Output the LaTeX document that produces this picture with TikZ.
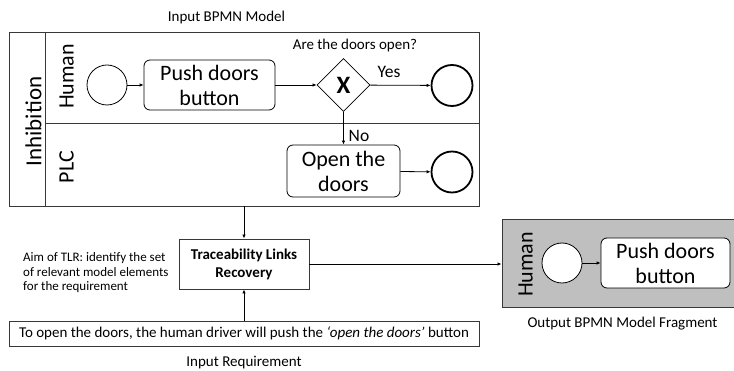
\documentclass[tikz,border=0pt]{standalone}
\usepackage{fontspec}
\setmainfont{Carlito}
\usetikzlibrary{shapes.geometric,arrows.meta}

\begin{document}
\begin{tikzpicture}[x=1pt,y=-1pt,
  frame/.style={draw=black!78, line width=0.9pt},
  task/.style={draw, line width=0.8pt, rounded corners=6pt, align=center, inner sep=0pt,
    font=\fontsize{22}{25}\selectfont},
  startev/.style={circle, draw, line width=0.8pt, minimum size=40pt, inner sep=0pt},
  endev/.style={circle, draw, line width=1.8pt, minimum size=41pt, inner sep=0pt},
  gateway/.style={diamond, draw, line width=0.8pt, minimum width=53pt, minimum height=53pt, inner sep=0pt,
    font=\fontsize{25}{25}\selectfont\bfseries},
  flow/.style={-{Latex[length=4pt,width=3.5pt]}, line width=0.8pt},
  caption/.style={font=\fontsize{15}{17}\selectfont},
  lanelabel/.style={rotate=90, anchor=base, inner sep=0pt, font=\fontsize{22}{24}\selectfont},
  edgelabel/.style={font=\fontsize{17.5}{19}\selectfont}
]
\useasboundingbox (0,0) rectangle (734,371);

% input BPMN model: pool with two lanes
\node[caption] (intitle) at (226.5,17.5) {Input BPMN Model};
\node[frame, minimum width=470pt, minimum height=174pt, inner sep=0pt] (pool) at (244,119) {};
\draw[frame] (45,32) -- (45,206);
\draw[frame] (45,123) -- (479,123);
\node[lanelabel, font=\fontsize{23}{25}\selectfont] (poollabel) at (41.5,121.5) {Inhibition};
\node[lanelabel] (humanlabel) at (73.5,76.5) {Human};
\node[lanelabel] (plclabel) at (73.5,167) {PLC};

% Human lane
\node[startev] (start) at (107,85) {};
\node[task, minimum width=131pt, minimum height=50pt] (push) at (209.5,85) {Push doors\\button};
\node[gateway] (gw) at (343.5,85) {X};
\node[endev] (end1) at (452,85.5) {};
\node[caption] (question) at (355,46) {Are the doors open?};

% PLC lane
\node[task, minimum width=113pt, minimum height=52pt] (open) at (343.5,171) {Open the\\doors};
\node[endev] (end2) at (452,172) {};

\draw[flow] (start) -- (push);
\draw[flow] (push) -- (gw);
\draw[flow] (gw) -- (end1);
\node[edgelabel] (yes) at (389,72) {Yes};
\draw[flow] (gw) -- (open);
\node[edgelabel] (no) at (359,136) {No};
\draw[flow] (open) -- (end2);

% traceability links recovery
\node[frame, minimum width=130pt, minimum height=50pt, align=center,
  font=\fontsize{15}{18}\selectfont\bfseries] (tlr) at (244,264) {Traceability Links\\Recovery};
\node[align=left, anchor=west, inner sep=0pt, font=\fontsize{13}{14.5}\selectfont] (aim) at (23,273)
  {Aim of TLR: identify the set\\of relevant model elements\\for the requirement};

% input requirement
\node[frame, minimum width=470pt, minimum height=25pt, inner sep=0pt,
  font=\fontsize{15}{17}\selectfont] (req) at (244,333.5)
  {To open the doors, the human driver will push the \textit{`open the doors'} button};
\node[caption] (reqtitle) at (244,363) {Input Requirement};

\draw[flow] (pool.south) -- (tlr.north);
\draw[flow] (req.north) -- (tlr.south);

% output BPMN model fragment
\node[frame, fill=black!25, minimum width=234pt, minimum height=88pt, inner sep=0pt] (frag) at (619,263) {};
\node[lanelabel] (fraglabel) at (532.5,264.5) {Human};
\node[startev, fill=white] (fstart) at (562,263) {};
\node[task, fill=white, minimum width=129pt, minimum height=50pt] (fpush) at (665.5,263) {Push doors\\button};
\draw[flow] (fstart) -- (fpush);
\node[caption] (outtitle) at (622.5,324) {Output BPMN Model Fragment};

\draw[flow] (tlr.east) -- (tlr.east -| frag.west);
\end{tikzpicture}
\end{document}
